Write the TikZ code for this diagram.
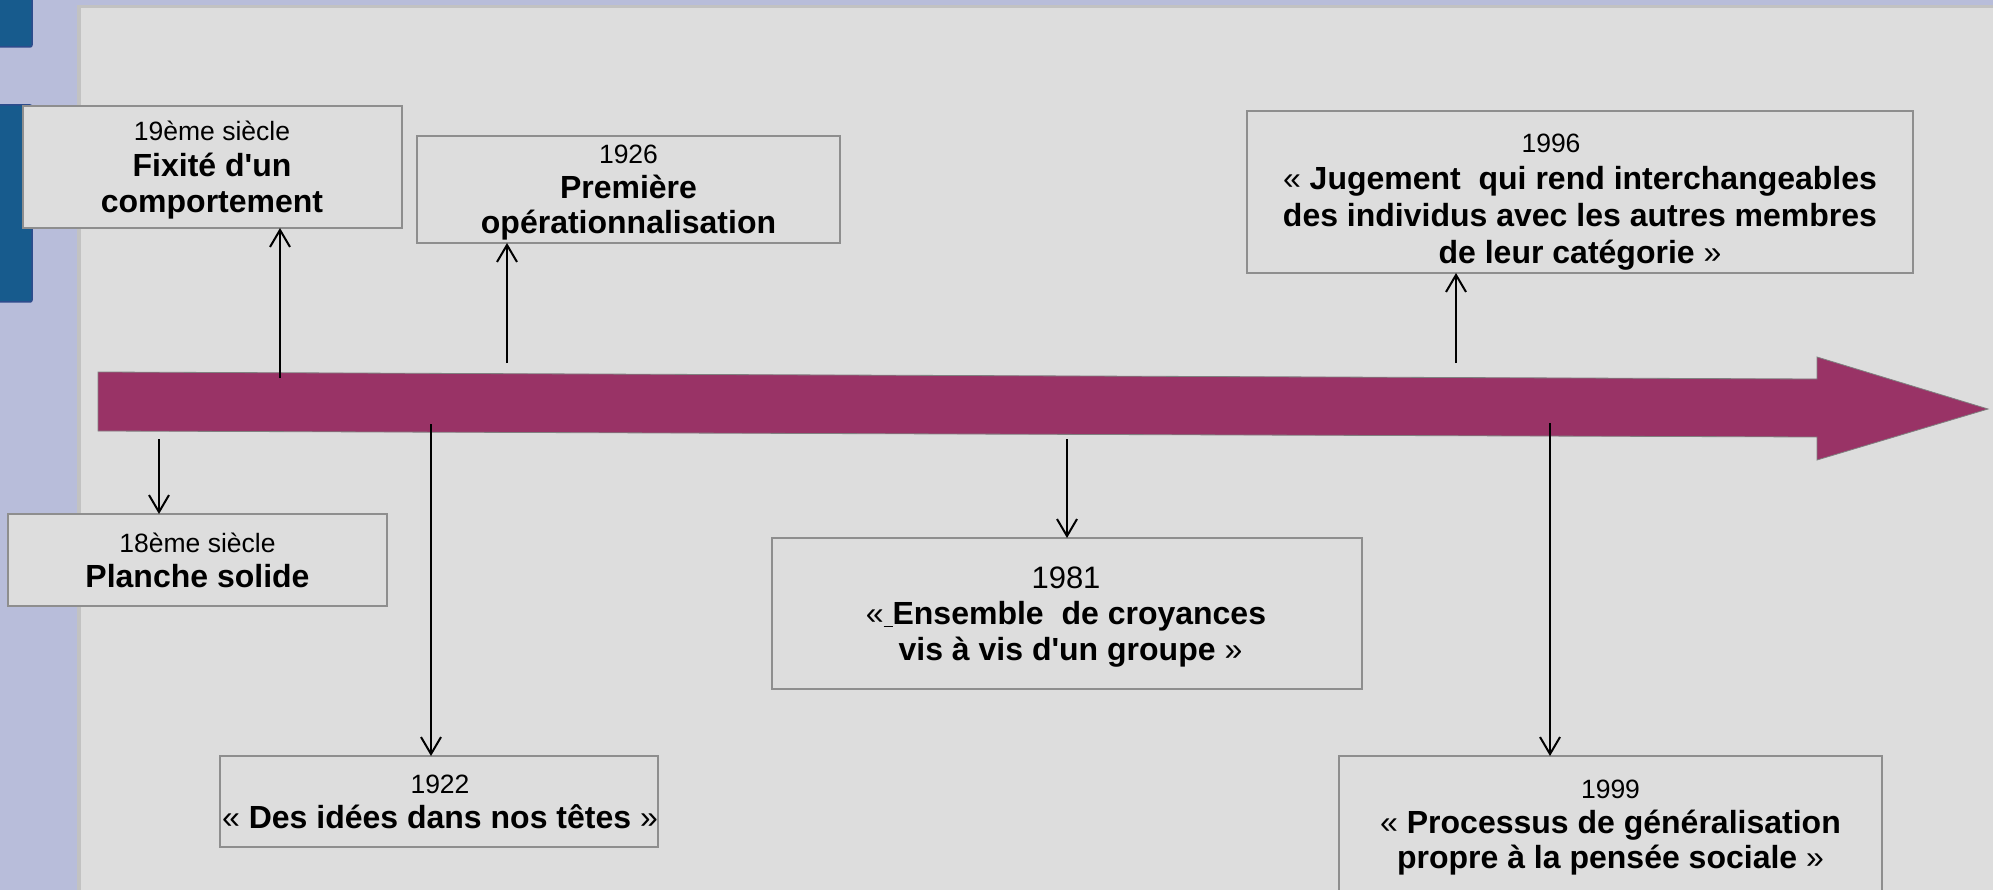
\documentclass[tikz,border=0pt]{standalone}
\usepackage{fontspec}
\setmainfont{Liberation Sans}
\usetikzlibrary{arrows.meta}

\definecolor{lavender}{HTML}{B8BDDA}
\definecolor{framegrey}{HTML}{C2C2C2}
\definecolor{panel}{HTML}{DDDDDD}
\definecolor{tabblue}{HTML}{175B8D}
\definecolor{tabedge}{HTML}{2D4C8C}
\definecolor{timeline}{HTML}{993366}
\definecolor{boxedge}{HTML}{8E8E8E}

\newcommand\datefont{\mdseries\fontsize{26.5}{36}\selectfont}
\newcommand\gq[1]{{\mdseries #1}}
\newcommand\ap{\textquotesingle}

\begin{document}
\begin{tikzpicture}[x=1pt,y=-1pt,
  box/.style={draw=boxedge, line width=1.2pt, fill=panel, inner sep=0pt, outer sep=0pt},
  txt/.style={align=center, inner sep=0pt, outer sep=0pt, font=\bfseries\fontsize{32}{#1}\selectfont},
  txt/.default=36,
  conn/.style={line width=2pt, -{Straight Barb[length=17pt,width=20pt]}}]

\useasboundingbox (0,0) rectangle (1993,890);
\clip (0,0) rectangle (1993,890);

% slide background with its frame
\fill[lavender] (0,0) rectangle (1993,890);
\fill[framegrey] (77,5) rectangle (1993,890);
\fill[panel] (81,8) rectangle (1993,890);

% blue tabs on the left edge
\draw[tabedge, fill=tabblue, line width=1.5pt, rounded corners=2pt] (-5,-5) rectangle (32,47);
\draw[tabedge, fill=tabblue, line width=1.5pt, rounded corners=2pt] (-5,105) rectangle (32,302);

% timeline arrow
\draw[draw=gray, line width=0.8pt, fill=timeline]
  (98,372) -- (1817,379) -- (1817,357) -- (1988,409) -- (1817,460) -- (1817,437) -- (98,431) -- cycle;

% boxes
\node[box, minimum width=379pt, minimum height=122pt] (b19) at (212.5,167) {};
\node[box, minimum width=423pt, minimum height=107pt] (b26) at (628.5,189.5) {};
\node[box, minimum width=379pt, minimum height=92pt]  (b18) at (197.5,560) {};
\node[box, minimum width=438pt, minimum height=91pt]  (b22) at (439,801.5) {};
\node[box, minimum width=590pt, minimum height=151pt] (b81) at (1067,613.5) {};
\node[box, minimum width=666pt, minimum height=162pt] (b96) at (1580,192) {};
\node[box, minimum width=543pt, minimum height=180pt] (b99) at (1610.5,846) {};

% texts
\node[txt] (t19) at (212,170.5) {{\datefont 19ème siècle}\\Fixité d\ap un\\comportement};
\node[txt=35] (t26) at (628.5,192.5) {{\datefont 1926}\\Première\\opérationnalisation};
\node[txt=35] (t18) at (197.5,560.5) {{\datefont 18ème siècle}\\Planche solide};
\node[txt=35] (t22) at (440,801.5) {{\datefont 1922}\\\gq{«} Des idées dans nos têtes \gq{»}};
\node[txt] (t81) at (1066,617.5) {{\mdseries\fontsize{31}{36}\selectfont 1981}\\\gq{«}\underline{\ }Ensemble\ \ de croyances\\\ vis à vis d\ap un groupe \gq{»}};
\node[txt=37] (t96) at (1580,202.5) {{\datefont 1996\hspace*{58pt}}\\\gq{«} Jugement\ \ qui rend interchangeables\\des individus avec les autres membres\\de leur catégorie \gq{»}};
\node[txt=35] (t99) at (1610.5,827.5) {{\datefont 1999}\\\gq{«} Processus de généralisation\\propre à la pensée sociale \gq{»}};

% anchor points on the timeline
\coordinate (p19) at (280,378);
\coordinate (p26) at (507,363);
\coordinate (p18) at (159,439);
\coordinate (p22) at (431,424);
\coordinate (p81) at (1067,439);
\coordinate (p96) at (1456,363);
\coordinate (p99) at (1550,423);

% connectors
\draw[conn] (p19) -- (p19 |- b19.south);
\draw[conn] (p26) -- (p26 |- b26.south);
\draw[conn] (p18) -- (p18 |- b18.north);
\draw[conn] (p22) -- (p22 |- b22.north);
\draw[conn] (p81) -- (p81 |- b81.north);
\draw[conn] (p96) -- (p96 |- b96.south);
\draw[conn] (p99) -- (p99 |- b99.north);
\end{tikzpicture}
\end{document}
